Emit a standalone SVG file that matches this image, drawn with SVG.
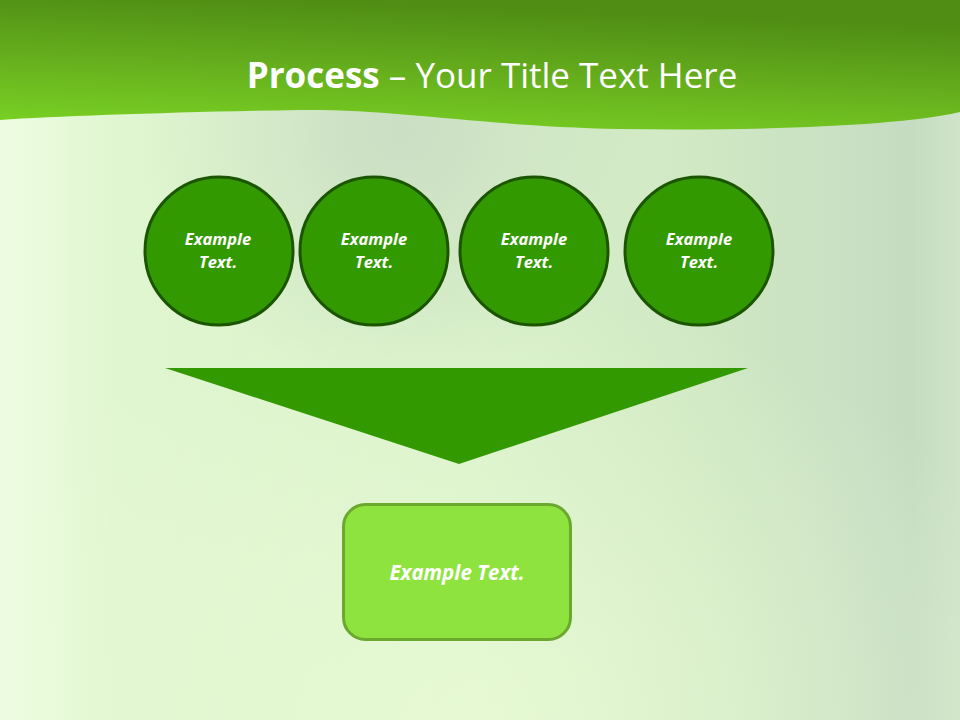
<svg xmlns="http://www.w3.org/2000/svg" width="960" height="720" viewBox="0 0 960 720">
  <defs>
    <linearGradient id="bg" x1="0" y1="0" x2="1" y2="0">
      <stop offset="0" stop-color="#eefde2"/>
      <stop offset="0.12" stop-color="#e0f6d0"/>
      <stop offset="0.5" stop-color="#d9f1ca"/>
      <stop offset="0.75" stop-color="#cfe7c3"/>
      <stop offset="0.95" stop-color="#c6dcc2"/>
      <stop offset="1" stop-color="#cfe4c8"/>
    </linearGradient>
    <radialGradient id="glow" cx="0.5" cy="1" r="0.6">
      <stop offset="0" stop-color="#ecfdd8" stop-opacity="0.7"/>
      <stop offset="1" stop-color="#ecfdd8" stop-opacity="0"/>
    </radialGradient>
    <radialGradient id="gray" gradientUnits="userSpaceOnUse" cx="400" cy="130" r="260">
      <stop offset="0" stop-color="#c8dcc2" stop-opacity="0.9"/>
      <stop offset="1" stop-color="#c8dcc2" stop-opacity="0"/>
    </radialGradient>
    <linearGradient id="hdr" x1="0" y1="1" x2="0.35" y2="0">
      <stop offset="0" stop-color="#7ad424"/>
      <stop offset="1" stop-color="#50901500" stop-opacity="1"/>
    </linearGradient>
    <linearGradient id="hdr2" x1="0" y1="1" x2="0.3" y2="0">
      <stop offset="0" stop-color="#7bd424"/>
      <stop offset="0.6" stop-color="#62a91c"/>
      <stop offset="1" stop-color="#4f8d14"/>
    </linearGradient>
    <style>
      .circ { fill: #339900; stroke: #1b5500; stroke-width: 3; }
      .ctext { font-family: "Open Sans", "Noto Sans", sans-serif; font-weight: bold; font-style: italic; font-size: 16.5px; fill: #ffffff; text-anchor: middle; }
      .title { font-family: "Open Sans", "Noto Sans", sans-serif; font-size: 35px; fill: #ffffff; text-anchor: middle; }
    </style>
  </defs>
  <rect width="960" height="720" fill="url(#bg)"/>
  <rect width="960" height="720" fill="url(#glow)"/>
  <rect width="960" height="400" fill="url(#gray)"/>
  <path d="M0,0 H960 V112 C900,126 760,131 620,129 C480,126 400,109 300,110 C180,112 60,116 0,120 Z" fill="url(#hdr2)"/>
  <text class="title" x="492" y="88"><tspan font-weight="bold">Process</tspan> – Your Title Text Here</text>

  <g id="node1">
    <circle class="circ" cx="219" cy="251" r="74"/>
    <text class="ctext" x="218" y="245">Example</text>
    <text class="ctext" x="218" y="268">Text.</text>
  </g>
  <g id="node2">
    <circle class="circ" cx="374" cy="251" r="74"/>
    <text class="ctext" x="374" y="245">Example</text>
    <text class="ctext" x="374" y="268">Text.</text>
  </g>
  <g id="node3">
    <circle class="circ" cx="534" cy="251" r="74"/>
    <text class="ctext" x="534" y="245">Example</text>
    <text class="ctext" x="534" y="268">Text.</text>
  </g>
  <g id="node4">
    <circle class="circ" cx="699" cy="251" r="74"/>
    <text class="ctext" x="699" y="245">Example</text>
    <text class="ctext" x="699" y="268">Text.</text>
  </g>
  <g id="connectors">
    <polygon points="165,368 748,368 459,464" fill="#339900"/>
  </g>
  <g id="node5">
    <rect x="343.5" y="504.5" width="227" height="135" rx="22" fill="#8ee33e" stroke="#6aa82e" stroke-width="3"/>
    <text x="457" y="580" font-family="'Open Sans', 'Noto Sans', sans-serif" font-weight="bold" font-style="italic" font-size="20.5" fill="#ffffff" text-anchor="middle">Example Text.</text>
  </g>
</svg>
